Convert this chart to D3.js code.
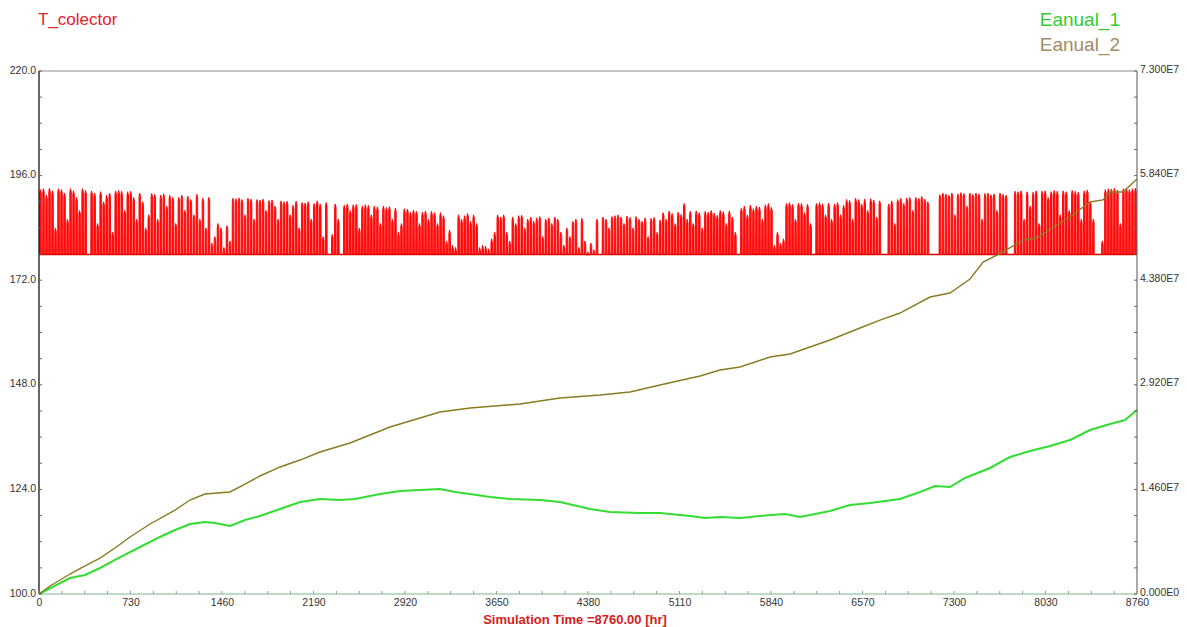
<!DOCTYPE html>
<html>
<head>
<meta charset="utf-8">
<script src="https://cdn.jsdelivr.net/npm/d3@7"></script>
<style>
  html, body { margin: 0; padding: 0; background: #ffffff; }
  svg { display: block; font-family: "Liberation Sans", Arial, sans-serif; }
</style>
</head>
<body>
<svg id="chart" width="1187" height="627"></svg>
<script>
// ---- data ---------------------------------------------------------------
// Hourly simulation over one year (8760 h)
const timeTicks = [0, 730, 1460, 2190, 2920, 3650, 4380, 5110, 5840, 6570, 7300, 8030, 8760];
const leftTicks = [100, 124, 148, 172, 196, 220];
const rightTicks = [0, 1.46e7, 2.92e7, 4.38e7, 5.84e7, 7.3e7];

// Collector temperature: night-time resting level and daily peak (0 = no sun that day)
const nightTemp = 177.9;
const dailyPeak = [
  // days 0-16
  192.8, 193, 191.5, 193.1, 192.5, 184, 193, 192.8, 192, 186, 193, 192.5, 191, 188, 193, 192.6, 0,
  // days 17-36
  192.5, 192, 185, 192.3, 190, 191.5, 192, 183, 192.5, 192.6, 192.4, 188, 192.3, 192.4, 191, 186, 192, 190, 184, 187,
  // days 37-46
  191.9, 191.7, 186, 191.5, 191.8, 189, 191.5, 191, 185, 191,
  // days 47-56
  191.5, 188, 191.3, 190.5, 187, 191.7, 186, 190.8, 184, 191,
  // days 57-64
  180.5, 182, 185, 184, 179.5, 184.5, 181, 190.8,
  // days 65-95
  190.7, 190.9, 190.5, 187, 190.8, 190.6, 186, 190.5, 190.4, 190.6, 188, 190.3, 190.4, 189, 186, 190.2,
  190, 190.1, 187, 189.2, 190.1, 184, 189.8, 189.7, 190, 186, 189.6, 190.2, 189.5, 182, 189.8,
  // days 96-100
  0, 182.5, 189.5, 186, 0,
  // days 101-121
  189.2, 189.5, 188, 189.3, 189.4, 184, 189, 189.3, 189.2, 187, 189, 188.8, 185, 189, 188.7, 188.9, 186, 188.5, 183, 185, 188.4,
  // days 122-134
  188.3, 187.6, 188.1, 187.8, 185, 187.6, 187.9, 186, 187.8, 187.5, 185, 187.5, 186.8,
  // days 135-138
  181, 183.5, 180, 179.5,
  // days 139-145
  187, 186, 186.8, 187.3, 185.5, 187, 185,
  // days 146-156
  179.5, 180, 179.8, 179.2, 181.5, 183, 187, 186.5, 187, 183, 181,
  // days 157-173
  186.5, 185, 186.8, 186.9, 184, 186, 186.5, 185.5, 186.3, 186.6, 182, 186, 186.3, 185, 186.5, 186, 183,
  // days 174-184
  180, 184, 182, 185.5, 186, 179.5, 186.2, 181, 178.5, 180.5, 179,
  // days 185-206
  186, 0, 186.5, 186, 184, 186.6, 186.8, 187, 186.5, 185, 186.7, 186.4, 184, 186.6, 186, 185.5, 186.3, 182, 186.2, 186.4, 183, 185.8,
  // days 207-231
  187.5, 186, 187.9, 187.3, 185, 187.6, 187.1, 189.6, 186, 187.8, 185, 187.9, 187.5, 184, 187.8, 187.6, 188, 187.4, 186.9, 188, 187.7, 185, 187.9, 186.5, 183,
  // days 232-243
  0, 188.5, 189, 187, 189.2, 188.4, 189, 188.8, 186, 189.3, 189.6, 188.7,
  // days 244-247
  180, 183, 180.5, 181.5,
  // days 248-257
  189.6, 189.8, 189.4, 186, 189.7, 189.6, 187.5, 189.4, 185, 0,
  // days 258-266
  189.6, 189.8, 189.5, 187, 189.7, 186, 189.5, 189.8, 187,
  // days 267-281
  189.2, 190.5, 190.3, 186, 190.8, 190.5, 189.5, 190.6, 188, 190.7, 190.4, 186.5, 190.2, 0, 0,
  // days 282-298
  189.5, 190.2, 185, 190.5, 190.8, 189.6, 190.9, 191, 188, 191, 190.8, 191.2, 190.6, 190, 0, 0, 0,
  // days 299-323
  191.6, 192, 191.8, 191.5, 192, 187, 191.8, 192.1, 191.9, 189, 192, 191.7, 192, 191.8, 186, 191.9,
  192, 191.6, 191.8, 188, 192, 191.7, 191.5, 0, 0,
  // days 324-353
  192.4, 192.3, 192.5, 186, 192.3, 189, 192.2, 192.5, 185, 192.4, 192.5, 191, 192.3, 192.6, 192.4,
  187, 192.5, 192.3, 188, 192.6, 192.4, 192.2, 186, 192.5, 192.7, 190, 186, 0, 0, 181,
  // days 354-364
  192.8, 193, 192.9, 193.1, 192.7, 185, 193, 193.1, 192.8, 193, 193.1
];

// Accumulated annual energy (Eanual_1), sampled along the year
const hours1 = [0, 247, 367, 487, 606, 806, 965, 1085, 1205, 1324, 1404, 1524, 1644, 1763, 1923, 2082,
  2242, 2401, 2521, 2721, 2880, 3040, 3199, 3319, 3439, 3598, 3758, 3997, 4157, 4396, 4556, 4795, 4954,
  5194, 5314, 5433, 5593, 5752, 5952, 6071, 6191, 6311, 6470, 6630, 6869, 7029, 7149, 7268, 7388, 7587,
  7747, 7906, 8066, 8226, 8385, 8545, 8664, 8760];
const eanual1 = [0, 2.23e6, 2.65e6, 3.63e6, 4.75e6, 6.56e6, 7.96e6, 8.93e6, 9.77e6, 1.005e7, 9.91e6,
  9.49e6, 1.033e7, 1.089e7, 1.186e7, 1.284e7, 1.326e7, 1.312e7, 1.326e7, 1.396e7, 1.438e7, 1.452e7,
  1.466e7, 1.424e7, 1.396e7, 1.354e7, 1.326e7, 1.312e7, 1.284e7, 1.186e7, 1.145e7, 1.131e7, 1.131e7,
  1.089e7, 1.061e7, 1.075e7, 1.061e7, 1.089e7, 1.117e7, 1.075e7, 1.117e7, 1.159e7, 1.242e7, 1.27e7,
  1.326e7, 1.424e7, 1.507e7, 1.493e7, 1.619e7, 1.759e7, 1.912e7, 1.996e7, 2.066e7, 2.15e7, 2.289e7,
  2.373e7, 2.429e7, 2.568e7];

// Accumulated annual energy (Eanual_2), sampled along the year
const hours2 = [0, 88, 247, 367, 487, 606, 726, 886, 1085, 1205, 1324, 1524, 1644, 1763, 1923, 2082,
  2242, 2481, 2800, 3040, 3199, 3439, 3838, 4157, 4476, 4715, 4954, 5274, 5433, 5593, 5832, 5992, 6151,
  6311, 6550, 6710, 6869, 7109, 7268, 7428, 7532, 7691, 7851, 7962, 8090, 8226, 8385, 8489, 8545, 8649, 8760];
const eanual2 = [0, 1.12e6, 2.79e6, 3.91e6, 5.02e6, 6.42e6, 7.96e6, 9.77e6, 1.172e7, 1.312e7, 1.396e7,
  1.424e7, 1.535e7, 1.647e7, 1.773e7, 1.87e7, 1.982e7, 2.108e7, 2.331e7, 2.457e7, 2.54e7, 2.596e7,
  2.652e7, 2.736e7, 2.778e7, 2.82e7, 2.917e7, 3.043e7, 3.127e7, 3.168e7, 3.308e7, 3.35e7, 3.448e7,
  3.545e7, 3.713e7, 3.824e7, 3.922e7, 4.145e7, 4.201e7, 4.397e7, 4.634e7, 4.774e7, 4.941e7, 4.969e7,
  5.123e7, 5.262e7, 5.472e7, 5.5e7, 5.611e7, 5.611e7, 5.793e7];

// ---- layout ------------------------------------------------------------
const W = 1187, H = 627;
const m = { left: 39, right: 50, top: 71, bottom: 33 };
const svg = d3.select("#chart");

const x = d3.scaleLinear().domain([0, 8760]).range([m.left, W - m.right]);
const yL = d3.scaleLinear().domain([100, 220]).range([H - m.bottom, m.top]);
const yR = d3.scaleLinear().domain([0, 7.3e7]).range([H - m.bottom, m.top]);

// ---- series ------------------------------------------------------------
// each sunny day: jump up in the morning, peak around midday, fall back in the evening
const collector = [];
dailyPeak.forEach((p, i) => {
  const h0 = i * 24;
  collector.push([h0, nightTemp]);
  if (p > 0) {
    collector.push([h0 + 5, nightTemp], [h0 + 6, p - 0.8], [h0 + 11, p], [h0 + 18, p - 0.8], [h0 + 19, nightTemp]);
  }
});
collector.push([8760, nightTemp]);

svg.append("path")
  .datum(collector)
  .attr("fill", "#ff1010")
  .attr("stroke", "#ff0000")
  .attr("stroke-width", 0.9)
  .attr("d", d3.line().x(d => x(d[0])).y(d => yL(d[1])));

// thicker resting line along the bottom of the band
svg.append("line")
  .attr("x1", x(0)).attr("x2", x(8760))
  .attr("y1", yL(nightTemp)).attr("y2", yL(nightTemp))
  .attr("stroke", "#e00000").attr("stroke-width", 1.6);

const energyLine = (hrs, vals) => d3.line()
  .x((d, i) => x(hrs[i]))
  .y(d => yR(d))(vals);

svg.append("path")
  .attr("d", energyLine(hours1, eanual1))
  .attr("fill", "none")
  .attr("stroke", "#33dd33")
  .attr("stroke-width", 2);

svg.append("path")
  .attr("d", energyLine(hours2, eanual2))
  .attr("fill", "none")
  .attr("stroke", "#8a7a22")
  .attr("stroke-width", 1.4);

// ---- frame and axes ----------------------------------------------------
const x0 = m.left, x1 = W - m.right, yTop = m.top, yBot = H - m.bottom;

svg.append("line").attr("x1", x0).attr("x2", x1).attr("y1", yTop).attr("y2", yTop)
  .attr("stroke", "#8c8c8c").attr("stroke-width", 1);
svg.append("line").attr("x1", x1).attr("x2", x1).attr("y1", yTop).attr("y2", yBot)
  .attr("stroke", "#555").attr("stroke-width", 1);
svg.append("line").attr("x1", x0).attr("x2", x0).attr("y1", yTop).attr("y2", yBot)
  .attr("stroke", "#000").attr("stroke-width", 1.2);
svg.append("line").attr("x1", x0).attr("x2", x1).attr("y1", yBot).attr("y2", yBot)
  .attr("stroke", "#7fb48a").attr("stroke-width", 1.2);

// minor ticks on the time axis
const timeMinor = d3.range(0, 8760.1, 182.5);
svg.append("g").selectAll("line").data(timeMinor).join("line")
  .attr("x1", d => x(d)).attr("x2", d => x(d))
  .attr("y1", yBot).attr("y2", yBot - 3)
  .attr("stroke", "#999");

// minor ticks on both value axes
const leftMinor = d3.range(100, 220.1, 6);
svg.append("g").selectAll("line").data(leftMinor).join("line")
  .attr("x1", x0).attr("x2", x0 + 3)
  .attr("y1", d => yL(d)).attr("y2", d => yL(d))
  .attr("stroke", "#666");
const rightMinor = d3.range(0, 7.3e7 + 1, 3.65e6);
svg.append("g").selectAll("line").data(rightMinor).join("line")
  .attr("x1", x1).attr("x2", x1 - 3)
  .attr("y1", d => yR(d)).attr("y2", d => yR(d))
  .attr("stroke", "#666");

const tickSize = "10.5px", tickColor = "#333";

svg.append("g")
  .attr("transform", `translate(0,${yBot})`)
  .call(d3.axisBottom(x).tickValues(timeTicks).tickSize(0).tickPadding(5).tickFormat(d3.format("d")))
  .call(g => g.select(".domain").remove())
  .call(g => g.selectAll("text").attr("font-size", tickSize).attr("fill", tickColor)
    .attr("font-family", "Liberation Sans, Arial, sans-serif"));

svg.append("g")
  .attr("transform", `translate(${x0},0)`)
  .call(d3.axisLeft(yL).tickValues(leftTicks).tickSize(0).tickPadding(3).tickFormat(d3.format(".1f")))
  .call(g => g.select(".domain").remove())
  .call(g => g.selectAll("text").attr("font-size", tickSize).attr("fill", tickColor)
    .attr("font-family", "Liberation Sans, Arial, sans-serif").attr("dy", "0.2em"));

const sci = v => {
  if (v === 0) return "0.000E0";
  const e = Math.floor(Math.log10(v));
  return (v / Math.pow(10, e)).toFixed(3) + "E" + e;
};
svg.append("g")
  .attr("transform", `translate(${x1},0)`)
  .call(d3.axisRight(yR).tickValues(rightTicks).tickSize(0).tickPadding(3).tickFormat(sci))
  .call(g => g.select(".domain").remove())
  .call(g => g.selectAll("text").attr("font-size", tickSize).attr("fill", tickColor)
    .attr("font-family", "Liberation Sans, Arial, sans-serif").attr("dy", "0.1em"));

// ---- titles ------------------------------------------------------------
svg.append("text").attr("x", 38).attr("y", 25)
  .attr("font-size", "17px").attr("fill", "#e8202a").text("T_colector");
svg.append("text").attr("x", 1120).attr("y", 26).attr("text-anchor", "end")
  .attr("font-size", "19px").attr("fill", "#33cc33").text("Eanual_1");
svg.append("text").attr("x", 1120).attr("y", 51).attr("text-anchor", "end")
  .attr("font-size", "19px").attr("fill", "#a38b62").text("Eanual_2");

svg.append("text").attr("x", 575).attr("y", 624).attr("text-anchor", "middle")
  .attr("font-size", "13px").attr("font-weight", "bold").attr("fill", "#d42020")
  .text("Simulation Time =8760.00 [hr]");
</script>
</body>
</html>
